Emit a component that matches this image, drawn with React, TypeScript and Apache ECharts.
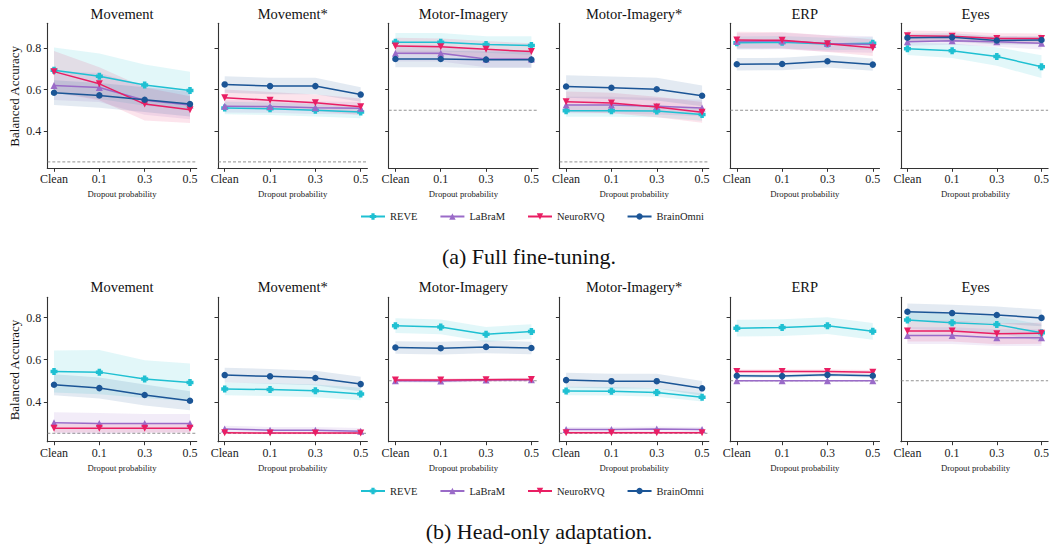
import React, { useEffect, useRef } from "react";
import * as echarts from "echarts";

const CATS = ["Clean", "0.1", "0.3", "0.5"];
const TASKS = ["Movement", "Movement*", "Motor-Imagery", "Motor-Imagery*", "ERP", "Eyes"];
const MODELS = ["REVE", "LaBraM", "NeuroRVQ", "BrainOmni"];
const CAPTIONS = ["(a) Full fine-tuning.", "(b) Head-only adaptation."];
const CHANCE_FT = [0.25, 0.25, 0.5, 0.25, 0.5, 0.5];
const CHANCE_HO = [0.25, 0.25, 0.5, 0.25, 0.5, 0.5];
const Y_TICKS = [0.4, 0.6, 0.8];

// ---- (a) Full fine-tuning: means and band half-widths per task ----
const FT_REVE = [
  [0.694, 0.665, 0.622, 0.596],
  [0.511, 0.507, 0.5, 0.491],
  [0.829, 0.829, 0.818, 0.813],
  [0.498, 0.498, 0.496, 0.479],
  [0.827, 0.829, 0.821, 0.824],
  [0.798, 0.788, 0.76, 0.711],
];
const FT_REVE_SD = [
  [0.11, 0.11, 0.1, 0.09],
  [0.03, 0.03, 0.03, 0.03],
  [0.045, 0.045, 0.04, 0.045],
  [0.03, 0.03, 0.03, 0.03],
  [0.03, 0.03, 0.03, 0.03],
  [0.03, 0.035, 0.045, 0.055],
];
const FT_LABRAM = [
  [0.62, 0.61, 0.548, 0.526],
  [0.519, 0.518, 0.512, 0.51],
  [0.776, 0.776, 0.748, 0.748],
  [0.525, 0.525, 0.519, 0.511],
  [0.833, 0.835, 0.823, 0.818],
  [0.832, 0.837, 0.832, 0.824],
];
const FT_LABRAM_SD = [
  [0.07, 0.07, 0.07, 0.07],
  [0.03, 0.03, 0.03, 0.03],
  [0.04, 0.04, 0.04, 0.04],
  [0.04, 0.04, 0.04, 0.04],
  [0.04, 0.04, 0.04, 0.04],
  [0.02, 0.02, 0.025, 0.03],
];
const FT_NEURORVQ = [
  [0.687, 0.628, 0.53, 0.503],
  [0.56, 0.549, 0.536, 0.517],
  [0.811, 0.808, 0.795, 0.784],
  [0.541, 0.535, 0.516, 0.49],
  [0.84, 0.839, 0.822, 0.803],
  [0.861, 0.858, 0.848, 0.847],
];
const FT_NEURORVQ_SD = [
  [0.1, 0.08, 0.08, 0.065],
  [0.04, 0.04, 0.04, 0.04],
  [0.04, 0.04, 0.04, 0.04],
  [0.05, 0.05, 0.05, 0.05],
  [0.04, 0.04, 0.04, 0.04],
  [0.025, 0.025, 0.025, 0.025],
];
const FT_BRAINOMNI = [
  [0.585, 0.572, 0.551, 0.53],
  [0.625, 0.617, 0.617, 0.576],
  [0.748, 0.748, 0.745, 0.745],
  [0.615, 0.609, 0.602, 0.57],
  [0.723, 0.724, 0.737, 0.721],
  [0.851, 0.853, 0.838, 0.84],
];
const FT_BRAINOMNI_SD = [
  [0.06, 0.06, 0.06, 0.06],
  [0.04, 0.04, 0.04, 0.035],
  [0.04, 0.04, 0.04, 0.04],
  [0.055, 0.055, 0.055, 0.05],
  [0.03, 0.03, 0.03, 0.03],
  [0.02, 0.02, 0.02, 0.02],
];

// ---- (b) Head-only adaptation ----
const HO_REVE = [
  [0.544, 0.541, 0.508, 0.492],
  [0.461, 0.458, 0.452, 0.437],
  [0.762, 0.756, 0.721, 0.734],
  [0.451, 0.45, 0.444, 0.421],
  [0.75, 0.753, 0.762, 0.735],
  [0.789, 0.776, 0.767, 0.728],
];
const HO_REVE_SD = [
  [0.1, 0.105, 0.09, 0.09],
  [0.03, 0.03, 0.03, 0.03],
  [0.035, 0.035, 0.035, 0.035],
  [0.02, 0.02, 0.02, 0.02],
  [0.04, 0.04, 0.04, 0.04],
  [0.04, 0.04, 0.04, 0.04],
];
const HO_LABRAM = [
  [0.3, 0.297, 0.297, 0.297],
  [0.271, 0.265, 0.265, 0.26],
  [0.5, 0.499, 0.503, 0.505],
  [0.268, 0.268, 0.27, 0.268],
  [0.5, 0.5, 0.5, 0.5],
  [0.715, 0.715, 0.705, 0.705],
];
const HO_LABRAM_SD = [
  [0.05, 0.05, 0.045, 0.045],
  [0.015, 0.015, 0.015, 0.015],
  [0.008, 0.008, 0.008, 0.008],
  [0.012, 0.012, 0.012, 0.012],
  [0.003, 0.003, 0.003, 0.003],
  [0.04, 0.04, 0.04, 0.04],
];
const HO_NEURORVQ = [
  [0.274, 0.274, 0.274, 0.274],
  [0.252, 0.251, 0.251, 0.251],
  [0.503, 0.503, 0.505, 0.506],
  [0.253, 0.253, 0.253, 0.253],
  [0.544, 0.544, 0.544, 0.541],
  [0.737, 0.737, 0.724, 0.726],
];
const HO_NEURORVQ_SD = [
  [0.02, 0.02, 0.02, 0.02],
  [0.005, 0.005, 0.005, 0.005],
  [0.008, 0.008, 0.008, 0.008],
  [0.005, 0.005, 0.005, 0.005],
  [0.01, 0.01, 0.01, 0.01],
  [0.05, 0.05, 0.05, 0.05],
];
const HO_BRAINOMNI = [
  [0.481, 0.465, 0.432, 0.405],
  [0.527, 0.521, 0.513, 0.484],
  [0.658, 0.655, 0.661, 0.656],
  [0.503, 0.498, 0.498, 0.464],
  [0.524, 0.522, 0.528, 0.524],
  [0.828, 0.822, 0.813, 0.799],
];
const HO_BRAINOMNI_SD = [
  [0.05, 0.05, 0.05, 0.045],
  [0.035, 0.035, 0.035, 0.035],
  [0.03, 0.03, 0.03, 0.03],
  [0.035, 0.035, 0.035, 0.035],
  [0.008, 0.008, 0.008, 0.008],
  [0.04, 0.04, 0.04, 0.04],
];

const COLORS = ["#1fc0d2", "#9a6bc8", "#e91e63", "#1b5596"];
const BANDS = [
  "rgba(31,192,210,0.13)",
  "rgba(154,107,200,0.13)",
  "rgba(233,30,99,0.12)",
  "rgba(27,85,150,0.12)",
];
const SYMBOLS = [
  "path://M-1.6,-3.2H1.6V-1.6H3.2V1.6H1.6V3.2H-1.6V1.6H-3.2V-1.6H-1.6Z",
  "triangle",
  "triangle",
  "circle",
];
const SYMBOL_SIZES = [7, 7, 7, 6.5];
const SYMBOL_ROT = [0, 0, 180, 0];

const ROW_DATA = [
  { means: [FT_REVE, FT_LABRAM, FT_NEURORVQ, FT_BRAINOMNI], sds: [FT_REVE_SD, FT_LABRAM_SD, FT_NEURORVQ_SD, FT_BRAINOMNI_SD], chance: CHANCE_FT },
  { means: [HO_REVE, HO_LABRAM, HO_NEURORVQ, HO_BRAINOMNI], sds: [HO_REVE_SD, HO_LABRAM_SD, HO_NEURORVQ_SD, HO_BRAINOMNI_SD], chance: CHANCE_HO },
];

const FONT = "'Liberation Serif', 'DejaVu Serif', serif";
const ROW_LAYOUT = [
  { top: 23.3, height: 145, ymin: 0.219, ymax: 0.921, titleY: 13.5, xnameY: 194, legendTop: 206, captionY: 256, captionX: 529 },
  { top: 297.3, height: 144.4, ymin: 0.21, ymax: 0.897, titleY: 287, xnameY: 467.5, legendTop: 480.5, captionY: 531, captionX: 539 },
];
const PANEL_LEFT0 = 47.3;
const PANEL_STEP = 170.7;
const PANEL_W = 149.4;
const XPAD = 0.148;

export default function App() {
  const ref = useRef<HTMLDivElement>(null);

  useEffect(() => {
    if (!ref.current) return;
    const chart = echarts.init(ref.current, null, { renderer: "svg" });

    const grids: any[] = [];
    const xAxes: any[] = [];
    const yAxes: any[] = [];
    const series: any[] = [];
    const graphics: any[] = [];
    const legends: any[] = [];

    ROW_LAYOUT.forEach((L, r) => {
      const R = ROW_DATA[r];
      TASKS.forEach((task, p) => {
        const idx = r * 6 + p;
        const left = PANEL_LEFT0 + PANEL_STEP * p;
        grids.push({ left, top: L.top, width: PANEL_W, height: L.height, containLabel: false });
        xAxes.push({
          type: "value",
          gridIndex: idx,
          min: -XPAD,
          max: 3 + XPAD,
          axisLine: { show: true, onZero: false, lineStyle: { color: "#333", width: 1.1 } },
          axisTick: { show: true, length: 3.5, customValues: [0, 1, 2, 3], lineStyle: { color: "#333", width: 1 } },
          axisLabel: {
            show: true,
            customValues: [0, 1, 2, 3],
            formatter: (v: number) => CATS[Math.round(v)],
            fontFamily: FONT,
            fontSize: 12,
            color: "#222",
            margin: 5,
          },
          splitLine: { show: false },
        });
        yAxes.push({
          type: "value",
          gridIndex: idx,
          min: L.ymin,
          max: L.ymax,
          axisLine: { show: true, onZero: false, lineStyle: { color: "#333", width: 1.1 } },
          axisTick: { show: true, length: 3.5, customValues: Y_TICKS, lineStyle: { color: "#333", width: 1 } },
          axisLabel: {
            show: p === 0,
            customValues: Y_TICKS,
            formatter: (v: number) => v.toFixed(1),
            fontFamily: FONT,
            fontSize: 12,
            color: "#222",
            margin: 6,
          },
          splitLine: { show: false },
        });

        // chance line
        const c = R.chance[p];
        series.push({
          type: "custom",
          xAxisIndex: idx,
          yAxisIndex: idx,
          silent: true,
          z: 1,
          data: [[0, c]],
          encode: { x: 0, y: 1 },
          renderItem: (params: any, api: any) => {
            const a = api.coord([-XPAD, c]);
            const b = api.coord([3 + XPAD, c]);
            return {
              type: "line",
              shape: { x1: a[0], y1: a[1], x2: b[0], y2: b[1] },
              style: { stroke: "#777", lineWidth: 0.8, lineDash: [3, 2] },
            };
          },
        });

        // bands
        MODELS.forEach((m, k) => {
          const means = R.means[k][p];
          const sds = R.sds[k][p];
          series.push({
            type: "custom",
            xAxisIndex: idx,
            yAxisIndex: idx,
            silent: true,
            z: 2,
            data: means.map((v: number, i: number) => [i, v]),
            encode: { x: 0, y: 1 },
            renderItem: (params: any, api: any) => {
              if (params.dataIndex !== 0) return null;
              const up = means.map((v: number, i: number) => api.coord([i, v + sds[i]]));
              const lo = means.map((v: number, i: number) => api.coord([i, v - sds[i]])).reverse();
              return {
                type: "polygon",
                shape: { points: up.concat(lo) },
                style: { fill: BANDS[k], stroke: null },
              };
            },
          });
        });

        // lines
        MODELS.forEach((m, k) => {
          const means = R.means[k][p];
          series.push({
            type: "line",
            name: m,
            xAxisIndex: idx,
            yAxisIndex: idx,
            z: 3 + k,
            data: means.map((v: number, i: number) => [i, v]),
            symbol: SYMBOLS[k],
            symbolSize: SYMBOL_SIZES[k],
            symbolRotate: SYMBOL_ROT[k],
            showAllSymbol: true,
            lineStyle: { color: COLORS[k], width: 1.5 },
            itemStyle: { color: COLORS[k] },
            emphasis: { disabled: true },
          });
        });

        // panel title
        graphics.push({
          type: "text",
          x: left + PANEL_W / 2,
          y: L.titleY,
          style: {
            text: task,
            fontFamily: FONT,
            fontSize: 14.5,
            fill: "#111",
            align: "center",
            verticalAlign: "middle",
          },
        });
        // x axis name
        graphics.push({
          type: "text",
          x: left + PANEL_W / 2,
          y: L.xnameY,
          style: {
            text: "Dropout probability",
            fontFamily: FONT,
            fontSize: 8.7,
            fill: "#222",
            align: "center",
            verticalAlign: "middle",
          },
        });
      });

      // y axis name
      graphics.push({
        type: "text",
        x: 14,
        y: L.top + L.height / 2 + 0.5,
        rotation: Math.PI / 2,
        style: {
          text: "Balanced Accuracy",
          fontFamily: FONT,
          fontSize: 13,
          fill: "#111",
          align: "center",
          verticalAlign: "middle",
        },
      });

      // caption
      graphics.push({
        type: "text",
        x: L.captionX,
        y: L.captionY,
        style: {
          text: CAPTIONS[r],
          fontFamily: FONT,
          fontSize: 22,
          fill: "#111",
          align: "center",
          verticalAlign: "middle",
        },
      });

      legends.push({
        data: MODELS,
        left: 355,
        top: L.legendTop,
        orient: "horizontal",
        itemWidth: 24,
        itemHeight: 8,
        itemGap: 22,
        selectedMode: false,
        textStyle: { fontFamily: FONT, fontSize: 10.5, color: "#222" },
      });
    });

    chart.setOption({
      animation: false,
      backgroundColor: "#ffffff",
      grid: grids,
      xAxis: xAxes,
      yAxis: yAxes,
      legend: legends,
      series,
      graphic: graphics,
    });

    return () => chart.dispose();
  }, []);

  return (
    <div
      ref={ref}
      style={{ position: "fixed", left: 0, top: 0, width: 1052, height: 546, background: "#fff" }}
    />
  );
}
